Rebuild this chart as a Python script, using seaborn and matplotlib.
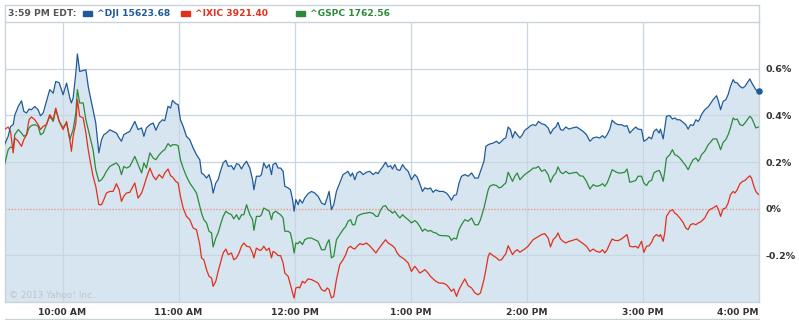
import matplotlib
matplotlib.use("Agg")
import matplotlib.pyplot as plt
from matplotlib.lines import Line2D
from matplotlib.patches import Rectangle
import seaborn as sns
import pandas as pd

# ---------------- data (minutes after 9:30 AM, % change) ----------------
minutes = [
    0, 1.9, 3.1, 4.5, 5.3, 7.1, 8.8, 10.0, 11.4, 12.7, 13.9, 15.7, 17.4, 18.6, 20.0, 21.7, 23.4, 25.2, 26.5, 28.3,
    30.3, 32.1, 33.8, 34.6, 35.5, 36.9, 37.7, 38.9, 40.7, 42.1, 43.3, 44.5, 45.8, 47.2, 48.8, 50.2, 51.4, 52.7, 54.5, 56.2,
    57.9, 59.3, 60.5, 61.7, 63.1, 64.8,
    67.4, 69.1, 70.9, 72.1, 73.4, 75.2, 76.9, 78.3, 80.0, 81.7, 82.9, 84.6, 85.9, 86.9, 88.6, 89.8, 91.0, 92.4, 94.1, 95.8,
    97.6, 99.3, 101.0, 101.9, 103.1, 104.5, 105.8, 107.1, 107.9, 109.3, 110.5, 111.7, 113.1, 114.5, 115.7, 117.4, 118.6, 120.0, 121.3, 122.6,
    123.8, 125.2, 126.9,
    128.3, 129.0, 130.3, 132.1, 132.9, 134.1, 135.5, 136.9, 138.1, 138.9, 140.3, 141.5, 142.8, 144.1, 145.0, 146.7, 147.9, 149.0, 149.8, 150.7,
    151.9, 152.7, 154.1, 155.3, 157.0, 158.8, 160.5, 162.2, 164.0, 165.7, 166.9, 167.9, 169.1, 170.3, 171.7, 173.4, 175.1, 176.5, 177.7, 179.0,
    180.0, 181.2, 182.4, 183.8, 185.5, 187.2, 188.9,
    190.7, 192.1, 193.2, 194.5, 195.8, 197.1, 198.4, 199.7, 200.7, 201.9, 203.1, 204.5, 205.9, 207.1, 208.8, 210.5, 212.2, 213.4, 214.8, 216.2,
    217.4, 219.1, 220.3, 221.7, 223.1, 224.8, 226.9, 228.6, 230.0, 231.2, 232.4, 233.8, 235.1, 236.4, 238.1, 239.8, 241.6, 243.3, 245.0, 246.2,
    248.0, 249.0, 250.2, 251.0,
    252.7, 254.5, 255.8, 257.1, 258.3, 259.3, 260.5, 261.7, 262.8, 264.0, 265.2, 266.6, 267.9, 269.1, 270.8, 272.1, 273.4, 274.8, 276.2, 277.8,
    279.5, 281.2, 282.4, 283.8, 285.2, 286.3, 287.6, 288.9, 290.3, 292.0, 293.8, 295.9, 297.6, 299.3, 301.0, 302.8, 304.5, 306.2, 307.9, 309.3,
    310.5, 311.7, 313.1,
    314.3, 315.7, 317.4, 319.1, 320.8, 322.0, 323.4, 325.1, 326.5, 327.7, 329.5, 330.7, 332.1, 333.4, 334.7, 335.9, 337.2, 338.6, 339.3, 340.7,
    341.5, 342.4, 344.1, 345.5, 346.7, 347.9, 349.3, 351.0, 352.4, 353.6, 354.8, 356.2, 357.6, 358.8, 359.6, 360.5, 362.2, 364.0, 364.8, 366.5,
    368.3, 369.3, 370.4, 371.7, 373.1, 374.3, 375.5, 376.9, 377.8, 379.0, 380.4, 381.8, 383.0, 384.2, 385.5, 386.4, 387.6, 388.6, 390.0,
]

dji = [
    0.274, 0.31, 0.352, 0.36, 0.40, 0.438, 0.462, 0.417, 0.41, 0.427, 0.424, 0.438, 0.424, 0.398, 0.41, 0.46, 0.51, 0.495, 0.545, 0.54,
    0.488, 0.538, 0.474, 0.453, 0.474, 0.581, 0.663, 0.588, 0.592, 0.595, 0.524, 0.474, 0.424, 0.367, 0.239, 0.296, 0.317, 0.324, 0.338, 0.331,
    0.324, 0.303, 0.289, 0.317, 0.324, 0.331,
    0.374, 0.339, 0.346, 0.31, 0.346, 0.36, 0.367, 0.336, 0.367, 0.381, 0.377, 0.439, 0.431, 0.464, 0.45, 0.446, 0.381, 0.353, 0.31, 0.296,
    0.26, 0.231, 0.21, 0.153, 0.146, 0.131, 0.146, 0.11, 0.067, 0.11, 0.124, 0.16, 0.196, 0.207, 0.181, 0.184, 0.167, 0.193, 0.189, 0.17,
    0.189, 0.203, 0.174,
    0.124, 0.081, 0.139, 0.139, 0.146, 0.196, 0.174, 0.189, 0.146, 0.189, 0.196, 0.174, 0.174, 0.16, 0.096, 0.089, 0.081, 0.039, -0.011, 0.039,
    0.017, 0.039, 0.024, 0.046, 0.064, 0.074, 0.067, 0.053, 0.024, 0.017, 0.046, 0.074, -0.004, 0.017, 0.074, 0.11, 0.146, 0.153, 0.16, 0.139,
    0.153, 0.124, 0.153, 0.16, 0.146, 0.156, 0.16,
    0.146, 0.156, 0.15, 0.167, 0.181, 0.199, 0.179, 0.184, 0.17, 0.189, 0.167, 0.164, 0.189, 0.174, 0.16, 0.124, 0.146, 0.136, 0.107, 0.074,
    0.089, 0.084, 0.089, 0.07, 0.081, 0.074, 0.074, 0.067, 0.053, 0.036, 0.056, 0.06, 0.11, 0.139, 0.146, 0.139, 0.153, 0.131, 0.131, 0.16,
    0.203, 0.267, 0.274, 0.277,
    0.281, 0.289, 0.279, 0.289, 0.299, 0.303, 0.35, 0.339, 0.303, 0.331, 0.317, 0.303, 0.317, 0.336, 0.346, 0.356, 0.36, 0.356, 0.374, 0.364,
    0.36, 0.346, 0.321, 0.341, 0.35, 0.37, 0.339, 0.336, 0.35, 0.341, 0.346, 0.35, 0.341, 0.331, 0.317, 0.289, 0.303, 0.307, 0.303, 0.313,
    0.303, 0.317, 0.341,
    0.379, 0.367, 0.36, 0.36, 0.353, 0.356, 0.324, 0.339, 0.35, 0.341, 0.339, 0.289, 0.296, 0.307, 0.299, 0.331, 0.341, 0.324, 0.341, 0.299,
    0.346, 0.396, 0.399, 0.384, 0.389, 0.381, 0.381, 0.37, 0.36, 0.341, 0.36, 0.356, 0.381, 0.374, 0.384, 0.403, 0.424, 0.436, 0.446, 0.467,
    0.484, 0.46, 0.424, 0.46, 0.467, 0.489, 0.524, 0.553, 0.541, 0.539, 0.524, 0.517, 0.524, 0.539, 0.556, 0.541, 0.524, 0.51, 0.503,
]

gspc = [
    0.189, 0.253, 0.264, 0.26, 0.317, 0.339, 0.324, 0.31, 0.317, 0.346, 0.356, 0.36, 0.353, 0.317, 0.324, 0.36, 0.396, 0.374, 0.424, 0.374,
    0.346, 0.367, 0.296, 0.317, 0.339, 0.41, 0.51, 0.453, 0.453, 0.381, 0.339, 0.296, 0.253, 0.167, 0.117, 0.124, 0.139, 0.16, 0.181, 0.189,
    0.196, 0.181, 0.146, 0.181, 0.174, 0.181,
    0.224, 0.189, 0.153, 0.196, 0.174, 0.239, 0.217, 0.21, 0.231, 0.246, 0.253, 0.279, 0.267, 0.274, 0.274, 0.27, 0.21, 0.174, 0.139, 0.11,
    0.089, 0.067, 0.01, -0.019, -0.047, -0.061, -0.097, -0.104, -0.164, -0.126, -0.104, -0.069, -0.033, -0.011, -0.019, -0.026, -0.044, -0.026, -0.047, -0.026,
    -0.026, 0.017, -0.026,
    -0.047, -0.093, -0.033, -0.033, -0.026, 0.003, -0.004, -0.011, -0.047, -0.019, -0.011, -0.019, -0.026, -0.04, -0.097, -0.097, -0.104, -0.147, -0.19, -0.147,
    -0.15, -0.14, -0.154, -0.133, -0.126, -0.126, -0.133, -0.14, -0.176, -0.176, -0.147, -0.133, -0.211, -0.204, -0.133, -0.111, -0.09, -0.076, -0.054, -0.047,
    -0.069, -0.069, -0.033, -0.026, -0.021, -0.019, -0.016,
    -0.021, -0.033, -0.033, -0.007, 0.01, 0.013, -0.004, -0.011, -0.019, -0.011, -0.026, -0.04, -0.026, -0.036, -0.047, -0.061, -0.051, -0.059, -0.076, -0.097,
    -0.087, -0.097, -0.093, -0.101, -0.104, -0.114, -0.116, -0.116, -0.119, -0.136, -0.126, -0.13, -0.09, -0.069, -0.047, -0.054, -0.04, -0.069, -0.069, -0.047,
    0.003, 0.039, 0.081, 0.096,
    0.103, 0.099, 0.089, 0.093, 0.103, 0.11, 0.156, 0.136, 0.117, 0.139, 0.153, 0.124, 0.136, 0.146, 0.156, 0.164, 0.174, 0.174, 0.181, 0.16,
    0.167, 0.146, 0.113, 0.139, 0.153, 0.179, 0.156, 0.15, 0.16, 0.15, 0.153, 0.156, 0.141, 0.139, 0.117, 0.084, 0.103, 0.096, 0.099, 0.107,
    0.096, 0.11, 0.139,
    0.167, 0.16, 0.153, 0.153, 0.156, 0.17, 0.113, 0.117, 0.121, 0.139, 0.139, 0.11, 0.099, 0.117, 0.121, 0.153, 0.16, 0.164, 0.153, 0.117,
    0.16, 0.217, 0.231, 0.253, 0.231, 0.227, 0.217, 0.199, 0.184, 0.167, 0.189, 0.21, 0.217, 0.203, 0.213, 0.231, 0.246, 0.274, 0.281, 0.299,
    0.299, 0.279, 0.253, 0.284, 0.296, 0.317, 0.346, 0.389, 0.381, 0.384, 0.36, 0.356, 0.367, 0.381, 0.396, 0.389, 0.367, 0.346, 0.35,
]

ixic = [
    0.339, 0.35, 0.331, 0.239, 0.303, 0.289, 0.267, 0.296, 0.317, 0.381, 0.393, 0.381, 0.36, 0.339, 0.353, 0.36, 0.403, 0.381, 0.431, 0.374,
    0.339, 0.374, 0.296, 0.246, 0.31, 0.367, 0.467, 0.396, 0.389, 0.324, 0.253, 0.196, 0.139, 0.096, 0.017, 0.017, 0.039, 0.067, 0.074, 0.074,
    0.107, 0.081, 0.031, 0.053, 0.067, 0.07,
    0.11, 0.045, 0.067, 0.096, 0.131, 0.174, 0.139, 0.124, 0.146, 0.131, 0.153, 0.17, 0.141, 0.136, 0.117, 0.11, 0.053, 0.003, -0.033, -0.047,
    -0.083, -0.09, -0.154, -0.211, -0.219, -0.261, -0.29, -0.297, -0.333, -0.311, -0.269, -0.233, -0.19, -0.173, -0.197, -0.19, -0.219, -0.211, -0.19, -0.161,
    -0.147, -0.161, -0.164,
    -0.19, -0.211, -0.169, -0.179, -0.176, -0.161, -0.179, -0.169, -0.211, -0.183, -0.19, -0.201, -0.201, -0.233, -0.276, -0.29, -0.326, -0.361, -0.383, -0.34,
    -0.336, -0.34, -0.311, -0.319, -0.301, -0.304, -0.311, -0.319, -0.347, -0.354, -0.34, -0.347, -0.383, -0.376, -0.304, -0.24, -0.219, -0.197, -0.169, -0.161,
    -0.169, -0.173, -0.161, -0.15, -0.154, -0.147, -0.159,
    -0.176, -0.19, -0.176, -0.161, -0.147, -0.133, -0.147, -0.154, -0.159, -0.169, -0.19, -0.204, -0.211, -0.219, -0.233, -0.269, -0.247, -0.259, -0.276, -0.269,
    -0.261, -0.276, -0.29, -0.301, -0.311, -0.319, -0.319, -0.326, -0.34, -0.354, -0.344, -0.376, -0.347, -0.326, -0.301, -0.33, -0.34, -0.361, -0.369, -0.361,
    -0.304, -0.261, -0.204, -0.19,
    -0.201, -0.211, -0.221, -0.219, -0.204, -0.193, -0.159, -0.179, -0.197, -0.183, -0.176, -0.187, -0.179, -0.173, -0.161, -0.147, -0.133, -0.126, -0.119, -0.111,
    -0.107, -0.126, -0.164, -0.133, -0.121, -0.104, -0.13, -0.14, -0.147, -0.14, -0.136, -0.13, -0.14, -0.15, -0.161, -0.183, -0.173, -0.183, -0.187, -0.176,
    -0.19, -0.176, -0.15,
    -0.13, -0.136, -0.137, -0.13, -0.119, -0.111, -0.161, -0.164, -0.161, -0.169, -0.14, -0.187, -0.161, -0.159, -0.144, -0.121, -0.111, -0.119, -0.111, -0.14,
    -0.104, -0.033, -0.011, -0.004, -0.019, -0.026, -0.04, -0.059, -0.083, -0.09, -0.069, -0.064, -0.069, -0.061, -0.059, -0.054, -0.04, -0.011, -0.004, 0.003,
    0.013, -0.004, -0.033, -0.001, 0.003, 0.024, 0.06, 0.074, 0.067, 0.081, 0.107, 0.117, 0.121, 0.131, 0.141, 0.131, 0.096, 0.074, 0.06,
]

tick_minutes = [30, 90, 150, 210, 270, 330, 390]
tick_labels = ["10:00 AM", "11:00 AM", "12:00 PM", "1:00 PM", "2:00 PM", "3:00 PM", "4:00 PM"]
y_ticks = [-0.2, 0.0, 0.2, 0.4, 0.6]
y_labels = ["-0.2%", "0%", "0.2%", "0.4%", "0.6%"]

series_names = ["^DJI", "^IXIC", "^GSPC"]
last_values = ["15623.68", "3921.40", "1762.56"]
header_time = "3:59 PM EDT:"
copyright_text = "\u00a9 2013 Yahoo! Inc."

# ---------------- style ----------------
C_DJI = "#1f5a98"
C_IXIC = "#e1301c"
C_GSPC = "#2c8a3c"
C_FILL = "#d7e5f0"
C_GRID = "#c7d6e1"
C_FRAME = "#c9d3da"
C_TEXT = "#333333"

sns.set_style("white")
plt.rcParams["font.family"] = ["DejaVu Sans"]

W, H = 799, 320
fig = plt.figure(figsize=(W / 100, H / 100), dpi=100)
fig.patch.set_facecolor("white")

L, R, T, B = 4.5, 758.5, 22, 302
ax = fig.add_axes([L / W, 1 - B / H, (R - L) / W, (B - T) / H])
ax.set_facecolor("white")

df = pd.DataFrame({"minutes": minutes, "dji": dji, "ixic": ixic, "gspc": gspc})

ax.fill_between(df["minutes"], df["dji"], -0.4, color=C_FILL, linewidth=0, zorder=1)
ax.axhline(0, color="#e59a8a", linestyle=(0, (1, 1.2)), linewidth=1.0, zorder=2)

sns.lineplot(data=df, x="minutes", y="gspc", color=C_GSPC, linewidth=0.9, ax=ax, zorder=4)
sns.lineplot(data=df, x="minutes", y="ixic", color=C_IXIC, linewidth=0.9, ax=ax, zorder=4)
sns.lineplot(data=df, x="minutes", y="dji", color=C_DJI, linewidth=0.9, ax=ax, zorder=5)
ax.scatter([minutes[-1]], [dji[-1]], s=22, color=C_DJI, zorder=6, clip_on=False, linewidths=0)

ax.set_xlim(0, 390)
ax.set_ylim(-0.4, 0.8)
ax.set_xlabel("")
ax.set_ylabel("")

ax.set_xticks(tick_minutes)
ax.set_xticklabels(tick_labels, fontsize=6.6, fontweight="bold", color=C_TEXT)
ax.get_xticklabels()[-1].set_horizontalalignment("right")
ax.set_yticks(y_ticks)
ax.set_yticklabels(y_labels, fontsize=6.8, fontweight="bold", color=C_TEXT)
ax.yaxis.tick_right()
ax.tick_params(axis="x", length=0, pad=4)
ax.tick_params(axis="y", length=0, pad=5)

ax.grid(True, color=C_GRID, linewidth=0.9, zorder=0)
for val, gl in zip(y_ticks, ax.get_ygridlines()):
    if val == 0:
        gl.set_visible(False)
for val, gl in zip(tick_minutes, ax.get_xgridlines()):
    if val == 390:
        gl.set_visible(False)
ax.set_axisbelow(False)
for gl in ax.get_xgridlines() + ax.get_ygridlines():
    gl.set_zorder(1.5)

for side in ["left", "right", "top", "bottom"]:
    ax.spines[side].set_color(C_FRAME)
    ax.spines[side].set_linewidth(1.0)

# header frame
def hline(y, x0, x1):
    fig.add_artist(Line2D([x0 / W, x1 / W], [1 - y / H, 1 - y / H], color=C_FRAME, linewidth=1.0))

def vline(x, y0, y1):
    fig.add_artist(Line2D([x / W, x / W], [1 - y0 / H, 1 - y1 / H], color=C_FRAME, linewidth=1.0))

hline(4.5, 4.5, 758.5)
vline(4.5, 4.5, 22)
vline(758.5, 4.5, 22)
hline(318.5, 4.5, 758.5)

ty = 1 - 13 / H
fig.text(8 / W, ty, header_time, fontsize=6.6, fontweight="bold", color="#555555", va="center", ha="left")

legend_items = [
    (82.5, 97, C_DJI, f"{series_names[0]} {last_values[0]}"),
    (180.5, 195, C_IXIC, f"{series_names[1]} {last_values[1]}"),
    (295.5, 310, C_GSPC, f"{series_names[2]} {last_values[2]}"),
]
for sx, tx, col, label in legend_items:
    fig.add_artist(Rectangle((sx / W, 1 - 15.5 / H), 9 / W, 4.5 / H, color=col, transform=fig.transFigure))
    fig.text(tx / W, ty, label, fontsize=6.6, fontweight="bold", color=col, va="center", ha="left")

fig.text(9 / W, 1 - 295 / H, copyright_text, fontsize=6.4, color="#b9c5ce", va="center", ha="left")

fig.savefig("out.png", dpi=100, facecolor="white")
